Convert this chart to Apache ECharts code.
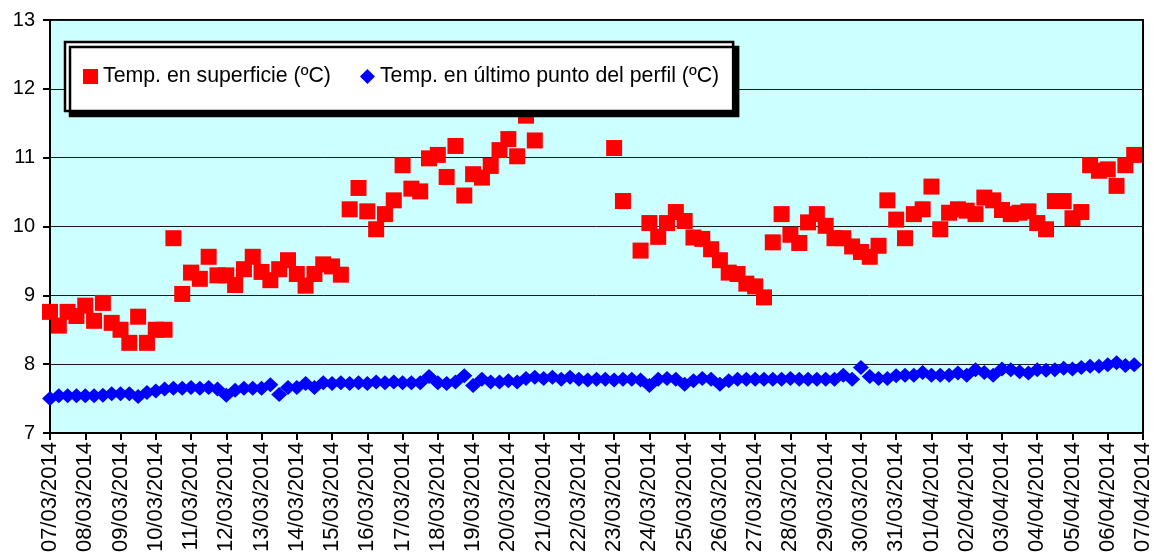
<!DOCTYPE html>
<html>
<head>
<meta charset="utf-8">
<script src="https://cdn.jsdelivr.net/npm/echarts@6/dist/echarts.min.js"></script>
<style>
html,body{margin:0;padding:0;background:#fff;}
#c{width:1154px;height:558px;}
</style>
</head>
<body>
<div id="c"></div>
<script>
// Tick labels (one per day, 4 readings per day)
const dateLabels = ['07/03/2014','08/03/2014','09/03/2014','10/03/2014','11/03/2014','12/03/2014','13/03/2014','14/03/2014','15/03/2014','16/03/2014','17/03/2014','18/03/2014','19/03/2014','20/03/2014','21/03/2014','22/03/2014','23/03/2014','24/03/2014','25/03/2014','26/03/2014','27/03/2014','28/03/2014','29/03/2014','30/03/2014','31/03/2014','01/04/2014','02/04/2014','03/04/2014','04/04/2014','05/04/2014','06/04/2014','07/04/2014'];
const readingsPerDay = 4;

const seriesNames = ['Temp. en superficie (ºC)', 'Temp. en último punto del perfil (ºC)'];

// Temp. en superficie (ºC)
const surfaceTemp = [
  8.76, 8.56, 8.76, 8.70,
  8.85, 8.63, 8.89, 8.60,
  8.50, 8.31, 8.69, 8.31,
  8.50, 8.50, 9.83, 9.02,
  9.33, 9.24, 9.56, 9.29,
  9.29, 9.15, 9.38, 9.56,
  9.34, 9.22, 9.38, 9.51,
  9.31, 9.14, 9.31, 9.45,
  9.42, 9.30, 10.25, 10.56,
  10.22, 9.96, 10.18, 10.38,
  10.89, 10.55, 10.51, 10.99,
  11.04, 10.72, 11.17, 10.45,
  10.76, 10.71, 10.88, 11.11,
  11.27, 11.02, 11.61, 11.25,
  null, null, null, null,
  null, null, null, null,
  11.14, 10.37, null, 9.65,
  10.05, 9.85, 10.05, 10.21,
  10.08, 9.84, 9.82, 9.67,
  9.51, 9.33, 9.31, 9.17,
  9.13, 8.97, 9.77, 10.18,
  9.88, 9.76, 10.06, 10.18,
  10.01, 9.83, 9.83, 9.71,
  9.63, 9.56, 9.72, 10.38,
  10.10, 9.83, 10.18, 10.25,
  10.58, 9.96, 10.20, 10.25,
  10.23, 10.18, 10.42, 10.38,
  10.24, 10.18, 10.20, 10.22,
  10.05, 9.96, 10.37, 10.37,
  10.12, 10.21, 10.89, 10.81,
  10.83, 10.59, 10.89, 11.04
];

// Temp. en último punto del perfil (ºC)
const bottomTemp = [
  7.50, 7.54, 7.54, 7.54,
  7.54, 7.54, 7.55, 7.57,
  7.57, 7.57, 7.53, 7.59,
  7.61, 7.64, 7.65, 7.65,
  7.66, 7.65, 7.66, 7.64,
  7.55, 7.62, 7.65, 7.65,
  7.65, 7.70, 7.56, 7.66,
  7.66, 7.72, 7.66, 7.73,
  7.72, 7.73, 7.72, 7.73,
  7.72, 7.74, 7.73, 7.74,
  7.73, 7.73, 7.73, 7.82,
  7.73, 7.72, 7.74, 7.83,
  7.69, 7.78, 7.74, 7.74,
  7.76, 7.74, 7.79, 7.81,
  7.79, 7.81, 7.78, 7.81,
  7.78, 7.77, 7.78, 7.78,
  7.77, 7.78, 7.78, 7.77,
  7.69, 7.78, 7.79, 7.78,
  7.71, 7.76, 7.79, 7.78,
  7.71, 7.76, 7.78, 7.78,
  7.78, 7.78, 7.78, 7.78,
  7.79, 7.78, 7.78, 7.78,
  7.78, 7.78, 7.84, 7.78,
  7.95, 7.82, 7.79, 7.79,
  7.83, 7.84, 7.84, 7.88,
  7.84, 7.84, 7.84, 7.87,
  7.84, 7.92, 7.88, 7.84,
  7.93, 7.92, 7.89, 7.87,
  7.92, 7.91, 7.92, 7.94,
  7.93, 7.95, 7.97, 7.97,
  7.99, 8.02, 7.98, 7.99
];

const yTicks = [7, 8, 9, 10, 11, 12, 13];

function toPoints(arr) {
  const out = [];
  arr.forEach((v, i) => { if (v !== null) out.push([i / readingsPerDay, v]); });
  return out;
}

const FONT = '"Liberation Sans", Arial, sans-serif';
const chart = echarts.init(document.getElementById('c'), null, {renderer: 'canvas'});
chart.setOption({
  animation: false,
  backgroundColor: '#ffffff',
  grid: {
    left: 50, right: 8, top: 20, bottom: 125,
    show: true, backgroundColor: '#CCFFFF', borderColor: '#000', borderWidth: 2
  },
  legend: {
    left: 65, top: 42,
    orient: 'horizontal',
    padding: [24, 14, 24, 18],
    itemGap: 29,
    itemWidth: 15, itemHeight: 15,
    backgroundColor: '#ffffff',
    borderColor: '#000', borderWidth: 2.5,
    shadowColor: '#000', shadowBlur: 0, shadowOffsetX: 5, shadowOffsetY: 5,
    textStyle: {fontFamily: FONT, fontSize: 21.3, color: '#000'},
    data: [
      {name: seriesNames[0], icon: 'rect'},
      {name: seriesNames[1], icon: 'diamond'}
    ]
  },
  xAxis: {
    type: 'value', min: 0, max: dateLabels.length - 1, interval: 1,
    axisLine: {show: true, onZero: false, lineStyle: {color: '#000', width: 2}},
    axisTick: {show: true, length: 7, lineStyle: {color: '#000', width: 2}},
    splitLine: {show: false},
    axisLabel: {
      rotate: 90, margin: 9, color: '#000', fontFamily: FONT, fontSize: 22,
      showMinLabel: true, showMaxLabel: true,
      formatter: v => dateLabels[Math.round(v)] || ''
    }
  },
  yAxis: {
    type: 'value', min: yTicks[0], max: yTicks[yTicks.length - 1], interval: 1,
    axisLine: {show: true, lineStyle: {color: '#000', width: 2}},
    axisTick: {show: true, length: 7, lineStyle: {color: '#000', width: 2}},
    splitLine: {show: true, lineStyle: {color: '#1a1a1a', width: 1}},
    axisLabel: {margin: 15, color: '#000', fontFamily: FONT, fontSize: 20}
  },
  series: [
    {
      name: seriesNames[0], type: 'scatter',
      symbol: 'rect', symbolSize: 16,
      itemStyle: {color: '#FF0000', opacity: 1},
      data: toPoints(surfaceTemp), z: 3
    },
    {
      name: seriesNames[1], type: 'scatter',
      symbol: 'diamond', symbolSize: [16, 15],
      itemStyle: {color: '#0000FF', opacity: 1},
      data: toPoints(bottomTemp), z: 2
    }
  ]
});
</script>
</body>
</html>
